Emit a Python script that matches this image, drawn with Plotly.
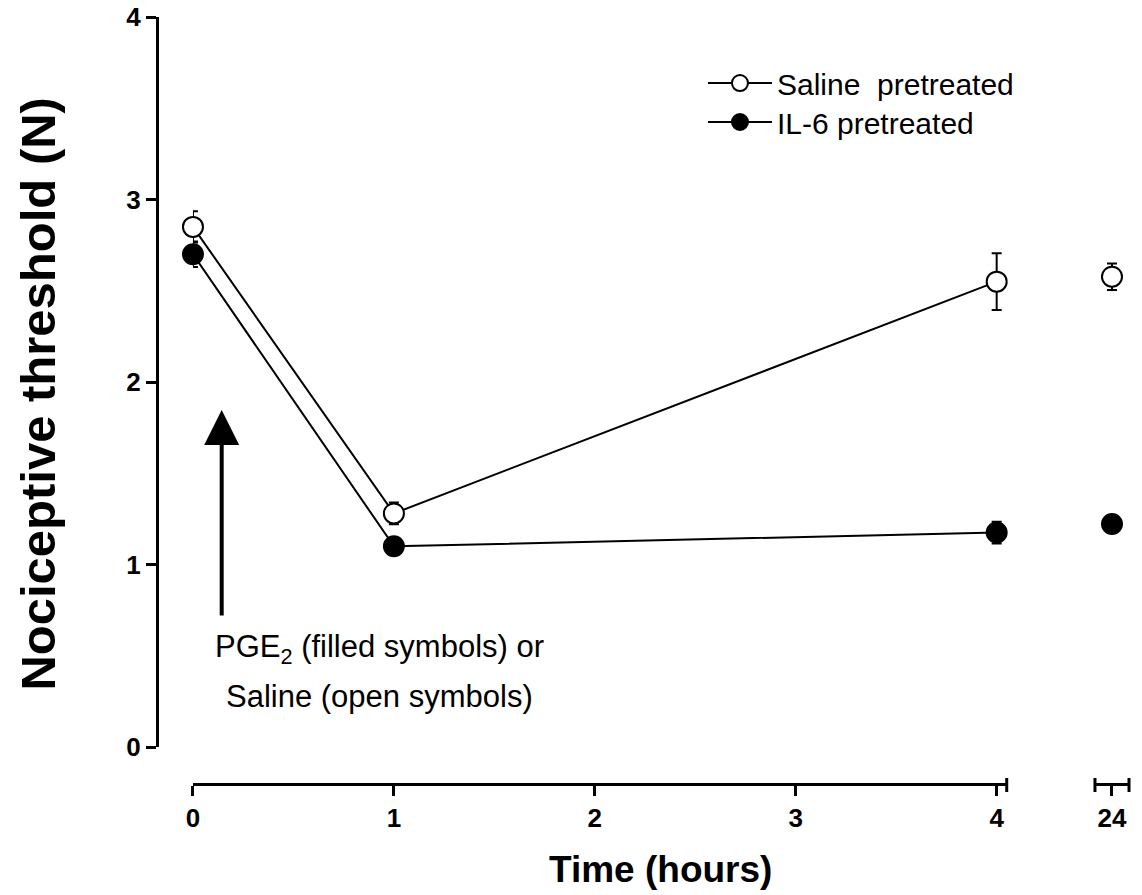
import plotly.graph_objects as go

# ---- data ----
hours_main = [0, 1, 4]
hours_late = [24]
saline_main = [2.85, 1.28, 2.55]
saline_main_err = [0.085, 0.06, 0.155]
saline_late = [2.577]
saline_late_err = [0.073]
il6_main = [2.70, 1.10, 1.175]
il6_main_err = [0.07, 0.03, 0.06]
il6_late = [1.222]
il6_late_err = [0.02]

x_ticks_main = [0, 1, 2, 3, 4]
x_ticks_late = [24]
y_ticks = [0, 1, 2, 3, 4]

FONT = "Liberation Sans, Arial, Helvetica, sans-serif"
BLACK = "#000000"

fig = go.Figure()

def add_series(x, y, err, xaxis, name, fill, show, mode, legend="legend"):
    fig.add_trace(go.Scatter(
        x=x, y=y, xaxis=xaxis, yaxis="y", name=name, mode=mode,
        showlegend=show, legend=legend,
        line=dict(color=BLACK, width=2),
        marker=dict(size=20, color=fill, line=dict(color=BLACK, width=2)),
        error_y=dict(type="data", array=err, visible=True, color=BLACK,
                     thickness=2, width=5),
        cliponaxis=False,
    ))

add_series(hours_main, saline_main, saline_main_err, "x", "Saline\u00a0 pretreated", "white", True, "lines+markers", "legend")
add_series(hours_main, il6_main, il6_main_err, "x", "IL-6 pretreated", BLACK, True, "lines+markers", "legend2")
add_series(hours_late, saline_late, saline_late_err, "x2", "Saline late", "white", False, "markers")
add_series(hours_late, il6_late, il6_late_err, "x2", "IL-6 late", BLACK, False, "markers")

axis_common = dict(
    showline=True, linecolor=BLACK, linewidth=3,
    ticks="outside", ticklen=10, tickwidth=3, tickcolor=BLACK,
    showgrid=False, zeroline=False, automargin=False,
    ticklabeloverflow="allow",
    tickfont=dict(family=FONT, size=26, color=BLACK, weight="bold"),
)

legend_common = dict(xanchor="left", yanchor="top",
                     font=dict(family=FONT, size=30, color=BLACK),
                     itemwidth=64, bgcolor="rgba(0,0,0,0)", borderwidth=0)

fig.update_layout(
    template="none",
    width=1134, height=887,
    margin=dict(l=149, r=13, t=9, b=111, pad=0),
    paper_bgcolor="white", plot_bgcolor="white",
    font=dict(family=FONT, color=BLACK),
    xaxis=dict(domain=[0.0370, 0.8742], range=[0, 4.05], anchor="free", position=0,
               tickvals=x_ticks_main, ticktext=[str(v) for v in x_ticks_main], **axis_common),
    xaxis2=dict(domain=[0.9650, 1.0], range=[23, 25], anchor="free", position=0,
                tickvals=x_ticks_late, ticktext=[str(v) for v in x_ticks_late], **axis_common),
    yaxis=dict(domain=[0.0482, 1.0], range=[0, 4], anchor="free", position=0,
               tickvals=y_ticks, ticktext=[str(v) for v in y_ticks], **axis_common),
    legend=dict(x=0.5617, y=0.9478, **legend_common),
    legend2=dict(x=0.5617, y=0.897, **legend_common),
    showlegend=True,
)

# axis end caps (broken axis)
for xref, xpos in [("x domain", 1), ("x2 domain", 0), ("x2 domain", 1)]:
    fig.add_shape(type="line", xref=xref, yref="paper", x0=xpos, x1=xpos,
                  y0=-0.0104, y1=0.0078, line=dict(color=BLACK, width=3))

# arrow
ARROW_X = 0.143
ARROW_TIP_Y = 1.847
ARROW_TAIL_Y = 0.712
fig.add_annotation(x=ARROW_X, y=ARROW_TIP_Y, ax=ARROW_X, ay=ARROW_TAIL_Y,
                   xref="x", yref="y", axref="x", ayref="y", text="",
                   showarrow=True, arrowhead=2, arrowwidth=4, arrowsize=1.75,
                   arrowcolor=BLACK, standoff=0)

NOTE_X = 0.926
fig.add_annotation(x=NOTE_X, y=0.537, xref="x", yref="y", showarrow=False,
                   text="PGE<sub>2</sub> (filled symbols) or",
                   font=dict(family=FONT, size=31, color=BLACK),
                   xanchor="center", yanchor="middle")
fig.add_annotation(x=NOTE_X, y=0.279, xref="x", yref="y", showarrow=False,
                   text="Saline (open symbols)",
                   font=dict(family=FONT, size=31, color=BLACK),
                   xanchor="center", yanchor="middle")

# axis titles
fig.add_annotation(x=-0.1224, y=0.509, xref="paper", yref="paper", showarrow=False,
                   text="Nociceptive threshold (N)", textangle=-90,
                   font=dict(family=FONT, size=49, color=BLACK, weight="bold"),
                   xanchor="center", yanchor="middle")
fig.add_annotation(x=0.5175, y=-0.112, xref="paper", yref="paper", showarrow=False,
                   text="Time (hours)",
                   font=dict(family=FONT, size=37, color=BLACK, weight="bold"),
                   xanchor="center", yanchor="middle")

fig.write_html("out.html")
